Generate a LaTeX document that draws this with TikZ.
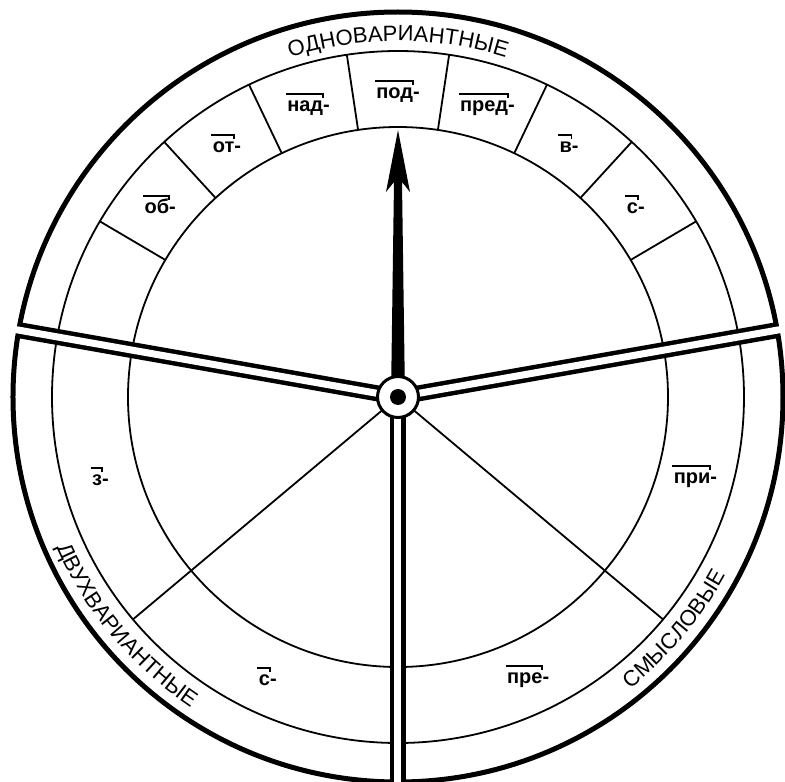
\documentclass[tikz,border=0pt]{standalone}
\usepackage{fontspec}
\setmainfont{Liberation Sans}
\usepackage{tikz}
\usetikzlibrary{decorations.text}

\newcommand{\prefx}[1]{\setbox0=\hbox{#1}\rlap{\kern-1.5pt\raisebox{16.5pt}{\rule{\dimexpr\wd0+2pt\relax}{1.8pt}}\llap{\raisebox{13.5pt}{\rule{1.8pt}{4.8pt}}}}\box0}

\begin{document}
\begin{tikzpicture}[x=1pt, y=1pt,
  ringline/.style={line width=1.8pt},
  channel/.style={line width=16pt},
  channelcore/.style={line width=7pt, white},
  prefixlabel/.style={font=\fontsize{20}{24}\selectfont\bfseries, inner sep=0pt},
  ringtext/.style={decorate, decoration={text along path, text align=center, text={|\fontsize{22}{26}\selectfont|#1}}}]
\useasboundingbox (-398,-385) rectangle (387,397);

\draw[line width=5pt] (0,0) circle[radius=385pt];
\draw[ringline] (0,0) circle[radius=346pt];
\draw[ringline] (0,0) circle[radius=270pt];

\foreach \k in {0,...,7}
  \draw[ringline] ({30.5+17*\k}:270) -- ({30.5+17*\k}:346);

\draw[ringline] (220:20) -- (220:346);
\draw[ringline] (320:20) -- (320:346);

\foreach \a in {10,170,270} {
  \draw[channel] (0,0) -- (\a:385);
  \draw[channelcore] (0,0) -- (\a:400);
}

\fill (-7,0) -- (-4,215) -- (-12,205) -- (0,267) -- (12,205) -- (4,215) -- (7,0) -- cycle;

\node[circle, draw, line width=3pt, fill=white, minimum size=41pt, inner sep=0pt] (hub) at (0,0) {};
\fill (hub.center) circle[radius=8pt];

\node[prefixlabel] (pod) at (90:306) {\prefx{под}-};
\node[prefixlabel] (pred) at (73:306) {\prefx{пред}-};
\node[prefixlabel] (v) at (56:306) {\prefx{в}-};
\node[prefixlabel] (s) at (39:306) {\prefx{с}-};
\node[prefixlabel] (nad) at (107:306) {\prefx{над}-};
\node[prefixlabel] (ot) at (124:306) {\prefx{от}-};
\node[prefixlabel] (ob) at (141:306) {\prefx{об}-};
\node[prefixlabel] (z) at (195:308) {\prefx{з}-};
\node[prefixlabel] (slow) at (245:308) {\prefx{с}-};
\node[prefixlabel] (pre) at (295:308) {\prefx{пре}-};
\node[prefixlabel] (pri) at (345:308) {\prefx{при}-};

\path[ringtext=ОДНОВАРИАНТНЫЕ] (130:356) arc[start angle=130, end angle=50, radius=356pt];
\path[ringtext=ДВУХВАРИАНТНЫЕ] (180:373) arc[start angle=180, end angle=260, radius=373pt];
\path[ringtext=СМЫСЛОВЫЕ] (280:373) arc[start angle=280, end angle=360, radius=373pt];
\end{tikzpicture}
\end{document}
